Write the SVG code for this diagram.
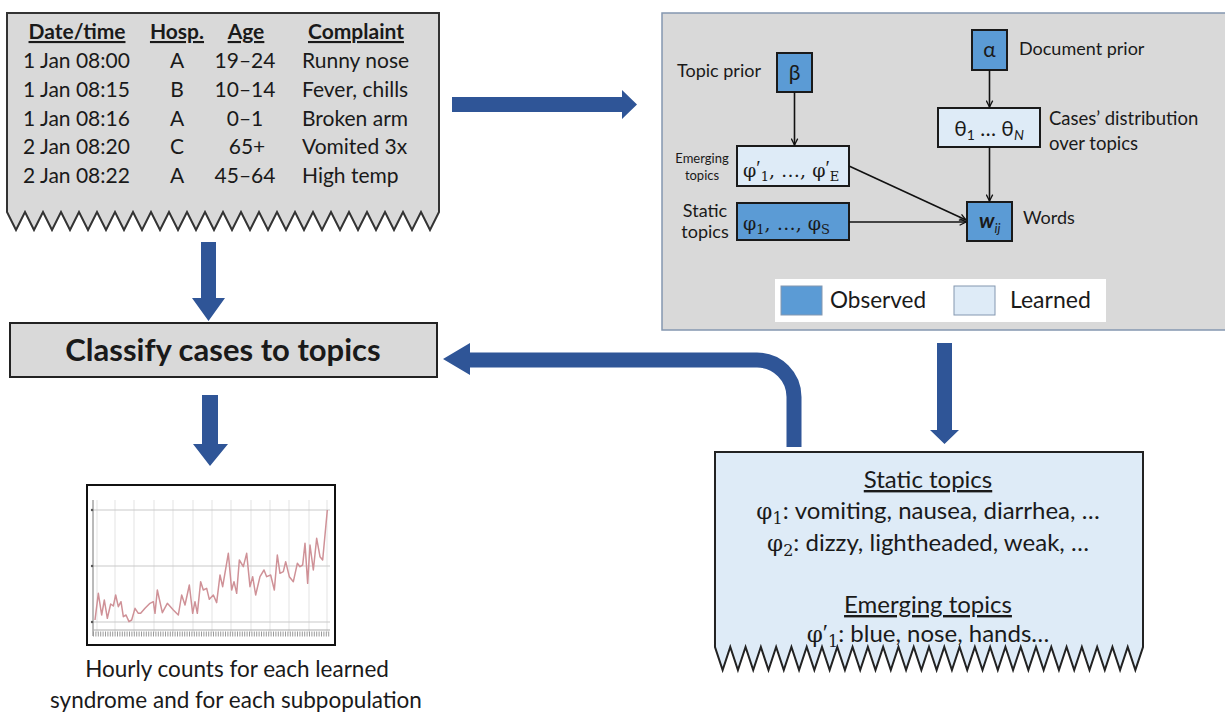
<svg xmlns="http://www.w3.org/2000/svg" width="1225" height="718" viewBox="0 0 1225 718">
<style>
.t{font-family:Lato,"Noto Sans",sans-serif;fill:#1a1a1a}
.m{font-family:"DejaVu Serif","Liberation Serif",serif;fill:#1a1a1a}
.pr{font-family:"Liberation Serif",serif}
.hd{font-weight:bold;text-decoration:underline;font-size:21px}
.row{font-size:21px}
.obs{fill:#5b9bd5;stroke:#1a1a1a;stroke-width:2}
.lrn{fill:#deebf7;stroke:#1a1a1a;stroke-width:2}
.big{fill:#2f5597}
.thin{stroke:#111;stroke-width:1.6;fill:none;marker-end:url(#ah)}
.vg{stroke:#e3e3e3;stroke-width:1}
.hg{stroke:#c9c9c9;stroke-width:1.2}
</style>
<defs>
<marker id="ah" viewBox="0 0 10 10" refX="9" refY="5" markerWidth="8" markerHeight="8" markerUnits="userSpaceOnUse" orient="auto">
<path d="M1,1 L9,5 L1,9" fill="none" stroke="#111" stroke-width="1.6"/>
</marker>
</defs>
<rect width="1225" height="718" fill="#fff"/>

<g id="table">
<path d="M7,13 H439 V212 l-9,18 l-9,-18 l-9,18 l-9,-18 l-9,18 l-9,-18 l-9,18 l-9,-18 l-9,18 l-9,-18 l-9,18 l-9,-18 l-9,18 l-9,-18 l-9,18 l-9,-18 l-9,18 l-9,-18 l-9,18 l-9,-18 l-9,18 l-9,-18 l-9,18 l-9,-18 l-9,18 l-9,-18 l-9,18 l-9,-18 l-9,18 l-9,-18 l-9,18 l-9,-18 l-9,18 l-9,-18 l-9,18 l-9,-18 l-9,18 l-9,-18 l-9,18 l-9,-18 l-9,18 l-9,-18 l-9,18 l-9,-18 l-9,18 l-9,-18 l-9,18 l-9,-18 Z" fill="#d9d9d9" stroke="#333" stroke-width="2"/>
<g class="t hd" text-anchor="middle">
<text x="77" y="39">Date/time</text>
<text x="177" y="39">Hosp.</text>
<text x="246" y="39">Age</text>
<text x="356" y="39">Complaint</text>
</g>
<g class="t row">
<text x="23" y="68">1 Jan 08:00</text>
<text x="23" y="97">1 Jan 08:15</text>
<text x="23" y="126">1 Jan 08:16</text>
<text x="23" y="154">2 Jan 08:20</text>
<text x="23" y="183">2 Jan 08:22</text>
</g>
<g class="t row" text-anchor="middle">
<text x="177" y="68">A</text>
<text x="177" y="97">B</text>
<text x="177" y="126">A</text>
<text x="177" y="154">C</text>
<text x="177" y="183">A</text>
<text x="245" y="68">19–24</text>
<text x="245" y="97">10–14</text>
<text x="245" y="126">0–1</text>
<text x="247" y="154">65+</text>
<text x="245" y="183">45–64</text>
</g>
<g class="t row">
<text x="302" y="68">Runny nose</text>
<text x="302" y="97">Fever, chills</text>
<text x="302" y="126">Broken arm</text>
<text x="302" y="154">Vomited 3x</text>
<text x="302" y="183">High temp</text>
</g>
</g>

<g id="classify">
<rect x="10" y="323" width="427" height="54" fill="#d9d9d9" stroke="#222" stroke-width="2"/>
<text class="t" x="223" y="361" text-anchor="middle" font-size="31" font-weight="bold">Classify cases to topics</text>
</g>

<g id="model">
<rect x="662" y="13" width="570" height="317" fill="#d9d9d9" stroke="#8497b0" stroke-width="1.5"/>
<g id="alpha">
<rect class="obs" x="972" y="30" width="35" height="40"/>
<text class="t" x="989.5" y="57" text-anchor="middle" font-size="21">α</text>
<text class="t" x="1019" y="55" font-size="18">Document prior</text>
</g>
<g id="beta">
<rect class="obs" x="777" y="53" width="35" height="39"/>
<text class="t" x="794.5" y="80" text-anchor="middle" font-size="21">β</text>
<text class="t" x="677" y="77" font-size="18">Topic prior</text>
</g>
<g id="theta">
<rect class="lrn" x="938" y="108" width="102" height="39"/>
<text class="t" x="989" y="136" text-anchor="middle" font-size="21">θ<tspan font-size="14" dy="4">1</tspan><tspan dy="-4"> … θ</tspan><tspan font-size="14" dy="4" font-style="italic">N</tspan></text>
<text class="t" x="1049" y="125" font-size="18.5">Cases’ distribution</text>
<text class="t" x="1049" y="150" font-size="18.5">over topics</text>
</g>
<g id="emerging">
<rect class="lrn" x="737" y="146" width="112" height="40"/>
<text class="m" x="743" y="177" font-size="19">φ<tspan class="pr" font-size="20" dy="-2">′</tspan><tspan font-size="13" dy="6">1</tspan><tspan dy="-4">, …, φ</tspan><tspan class="pr" font-size="20" dy="-2">′</tspan><tspan font-size="13" dy="6">E</tspan></text>
<text class="t" x="702" y="163" text-anchor="middle" font-size="13">Emerging</text>
<text class="t" x="702" y="180" text-anchor="middle" font-size="13">topics</text>
</g>
<g id="static">
<rect class="obs" x="737" y="203" width="112" height="37"/>
<text class="m" x="743" y="230" font-size="19">φ<tspan font-size="13" dy="4">1</tspan><tspan dy="-4">, …, φ</tspan><tspan font-size="13" dy="4">S</tspan></text>
<text class="t" x="705" y="217" text-anchor="middle" font-size="18">Static</text>
<text class="t" x="705" y="238" text-anchor="middle" font-size="18">topics</text>
</g>
<g id="words">
<rect class="obs" x="967" y="202" width="45" height="39"/>
<text class="t" x="979" y="228" font-size="21" font-weight="bold" font-style="italic">w<tspan font-size="13" font-weight="normal" dy="5">ij</tspan></text>
<text class="t" x="1023" y="224" font-size="18">Words</text>
</g>
<g id="legend">
<rect x="775" y="279" width="331" height="43" fill="#fff"/>
<rect x="781" y="286" width="41" height="29" fill="#5b9bd5" stroke="#8497b0" stroke-width="1"/>
<text class="t" x="830" y="308" font-size="22.5">Observed</text>
<rect x="954" y="286" width="41" height="29" fill="#deebf7" stroke="#8497b0" stroke-width="1"/>
<text class="t" x="1010" y="308" font-size="23">Learned</text>
</g>
</g>

<g id="chart">
<rect x="87" y="485" width="248" height="160" fill="#fff" stroke="#111" stroke-width="2"/>
<g class="vg">
<line x1="97" y1="500" x2="97" y2="633"/><line x1="115" y1="500" x2="115" y2="633"/><line x1="134" y1="500" x2="134" y2="633"/><line x1="154" y1="500" x2="154" y2="633"/><line x1="173" y1="500" x2="173" y2="633"/><line x1="193" y1="500" x2="193" y2="633"/><line x1="212" y1="500" x2="212" y2="633"/><line x1="231" y1="500" x2="231" y2="633"/><line x1="251" y1="500" x2="251" y2="633"/><line x1="270" y1="500" x2="270" y2="633"/><line x1="289" y1="500" x2="289" y2="633"/><line x1="309" y1="500" x2="309" y2="633"/><line x1="327" y1="500" x2="327" y2="633"/>
</g>
<g class="hg">
<line x1="93" y1="510" x2="330" y2="510"/><line x1="93" y1="566" x2="330" y2="566"/><line x1="93" y1="622" x2="330" y2="622"/>
</g>
<line x1="93" y1="500" x2="93" y2="636" stroke="#777" stroke-width="1"/>
<circle cx="92" cy="510" r="1.2" fill="#555"/><circle cx="92" cy="566" r="1.2" fill="#555"/><circle cx="92" cy="622" r="1.2" fill="#555"/>
<line x1="93" y1="630" x2="330" y2="630" stroke="#aaa" stroke-width="1"/>
<line x1="93" y1="634" x2="330" y2="634" stroke="#999" stroke-width="5" stroke-dasharray="1 1.4"/>
<polyline transform="translate(80,480) scale(0.33333)" fill="none" stroke="#cf9197" stroke-width="4.5" stroke-linejoin="round" points="45,420 55,340 65,405 73,360 82,415 92,372 100,378 107,345 115,380 123,365 130,410 138,405 147,425 155,420 165,385 175,400 182,400 195,385 210,370 220,365 225,400 232,330 247,398 262,370 280,390 295,405 305,345 315,375 328,315 338,400 345,365 352,400 362,305 370,330 380,325 388,358 400,345 410,368 420,285 428,320 445,220 455,330 462,305 470,340 478,240 490,260 500,220 510,320 518,290 527,345 540,290 552,270 560,290 572,285 583,330 592,225 600,280 610,275 617,245 628,290 640,305 652,250 660,260 668,255 675,190 683,310 690,195 700,270 710,175 720,230 728,240 742,90"/>
<text class="t" x="237" y="677" text-anchor="middle" font-size="22.5">Hourly counts for each learned</text>
<text class="t" x="236" y="708" text-anchor="middle" font-size="22.5">syndrome and for each subpopulation</text>
</g>

<g id="topics">
<path d="M715,452 H1143 V647 l-7.643,23 l-7.643,-23 l-7.643,23 l-7.643,-23 l-7.643,23 l-7.643,-23 l-7.643,23 l-7.643,-23 l-7.643,23 l-7.643,-23 l-7.643,23 l-7.643,-23 l-7.643,23 l-7.643,-23 l-7.643,23 l-7.643,-23 l-7.643,23 l-7.643,-23 l-7.643,23 l-7.643,-23 l-7.643,23 l-7.643,-23 l-7.643,23 l-7.643,-23 l-7.643,23 l-7.643,-23 l-7.643,23 l-7.643,-23 l-7.643,23 l-7.643,-23 l-7.643,23 l-7.643,-23 l-7.643,23 l-7.643,-23 l-7.643,23 l-7.643,-23 l-7.643,23 l-7.643,-23 l-7.643,23 l-7.643,-23 l-7.643,23 l-7.643,-23 l-7.643,23 l-7.643,-23 l-7.643,23 l-7.643,-23 l-7.643,23 l-7.643,-23 l-7.643,23 l-7.643,-23 l-7.643,23 l-7.643,-23 l-7.643,23 l-7.643,-23 l-7.643,23 l-7.643,-23 Z" fill="#deebf7" stroke="#222" stroke-width="2"/>
<g class="t" font-size="24" text-anchor="middle">
<text x="928" y="488" text-decoration="underline">Static topics</text>
<text x="928" y="519"><tspan class="m" font-size="23">φ</tspan><tspan class="m" font-size="16" dy="5">1</tspan><tspan dy="-5">: vomiting, nausea, diarrhea, …</tspan></text>
<text x="928" y="551"><tspan class="m" font-size="23">φ</tspan><tspan class="m" font-size="16" dy="5">2</tspan><tspan dy="-5">: dizzy, lightheaded, weak, …</tspan></text>
<text x="928" y="613" text-decoration="underline">Emerging topics</text>
<text x="928" y="642"><tspan class="m" font-size="23">φ</tspan><tspan class="pr" font-size="24" dy="-2">′</tspan><tspan class="m" font-size="16" dy="7">1</tspan><tspan dy="-5">: blue, nose, hands…</tspan></text>
</g>
</g>

<g id="connectors">
<polygon class="big" points="452,97 622,97 622,90 637,104.5 622,119 622,112 452,112"/>
<polygon class="big" points="201,242 216,242 216,298 225,298 208.5,321 192,298 201,298"/>
<polygon class="big" points="202,395 218,395 218,444 228,444 210,466 193,444 202,444"/>
<polygon class="big" points="937,343 952,343 952,430 959,430 944.5,444 930,430 937,430"/>
<path d="M794,447 V397 A37,37 0 0 0 757,360 H468" fill="none" stroke="#2f5597" stroke-width="15"/>
<polygon class="big" points="470,343 443,359 470,375"/>
<line class="thin" x1="794.5" y1="92" x2="794.5" y2="145"/>
<line class="thin" x1="989.5" y1="70" x2="989.5" y2="107"/>
<line class="thin" x1="989.5" y1="147" x2="989.5" y2="201"/>
<line class="thin" x1="849" y1="166" x2="966" y2="220"/>
<line class="thin" x1="849" y1="222" x2="966" y2="222"/>
</g>
</svg>
